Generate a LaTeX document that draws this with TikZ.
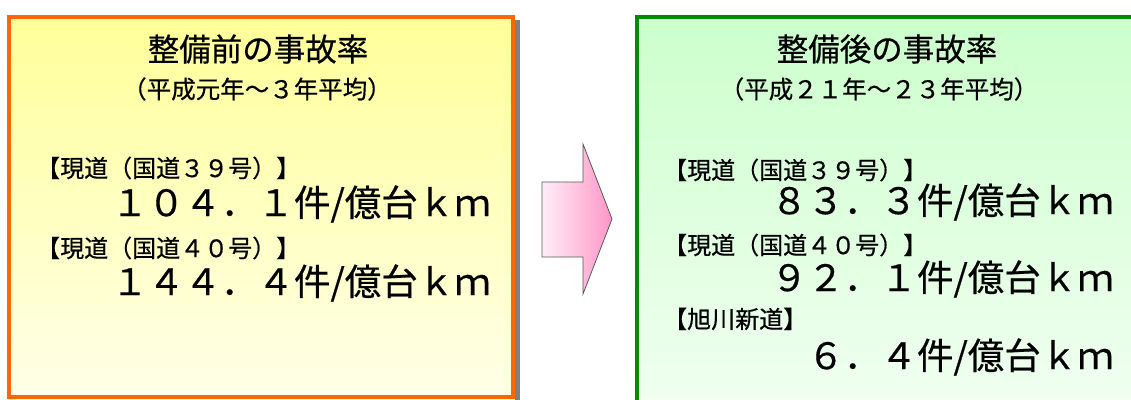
\documentclass[tikz,border=0pt]{standalone}
\usepackage{fontspec}
\setmainfont{Noto Sans CJK JP}[FakeBold=0.5]
\definecolor{orangeline}{RGB}{255,102,0}
\definecolor{greenline}{RGB}{0,140,0}
\definecolor{yeltop}{RGB}{255,255,153}
\definecolor{yelbot}{RGB}{255,255,232}
\definecolor{grntop}{RGB}{204,255,204}
\definecolor{grnbot}{RGB}{242,255,242}
\definecolor{pinkl}{RGB}{255,238,246}
\definecolor{pinkr}{RGB}{255,150,200}
\definecolor{shadowgray}{RGB}{128,128,128}
\tikzset{
  titletext/.style={inner sep=0pt, font=\fontsize{31.5}{35}\selectfont},
  subtext/.style={inner sep=0pt, font=\fontsize{24.5}{28}\selectfont},
  labeltext/.style={inner sep=0pt, anchor=west, font=\fontsize{24}{28}\selectfont},
  valuetext/.style={inner sep=0pt, anchor=east, font=\fontsize{36.5}{40}\selectfont},
}
\begin{document}
\begin{tikzpicture}[x=1pt,y=-1pt]
\useasboundingbox (0,0) rectangle (1131,399);
\begin{scope}
\clip (0,0) rectangle (1131,399);
% left box shadow
\fill[shadowgray] (515,20) rectangle (520,405);
% left box
\shade[top color=yeltop, bottom color=yelbot] (9,17) rectangle (513,397);
\draw[orangeline, line width=4pt] (9,17) rectangle (513,397);
% right box
\shade[top color=grntop, bottom color=grnbot] (637,17) rectangle (1140,420);
\draw[greenline, line width=4pt] (637,17) rectangle (1140,420);
% arrow
\draw[left color=pinkl, right color=pinkr, draw=black!65, line width=0.8pt, line join=miter]
  (542,182) -- (583,182) -- (583,144) -- (612,219) -- (583,294) -- (583,257) -- (542,257) -- cycle;
\end{scope}
% left texts
\node[titletext] (ltitle) at (258,49) {整備前の事故率};
\node[subtext] (lsub) at (257,89) {（平成元年～３年平均）};
\node[labeltext] (llab1) at (36,168) {【現道（国道３９号）】};
\node[valuetext] (lval1) at (491,204) {１０４．１件/億台ｋｍ};
\node[labeltext] (llab2) at (36,248) {【現道（国道４０号）】};
\node[valuetext] (lval2) at (491,283) {１４４．４件/億台ｋｍ};
% right texts
\node[titletext] (rtitle) at (887,49) {整備後の事故率};
\node[subtext] (rsub) at (879,89) {（平成２１年～２３年平均）};
\node[labeltext] (rlab1) at (663,170) {【現道（国道３９号）】};
\node[valuetext] (rval1) at (1114,202) {８３．３件/億台ｋｍ};
\node[labeltext] (rlab2) at (663,245) {【現道（国道４０号）】};
\node[valuetext] (rval2) at (1114,279) {９２．１件/億台ｋｍ};
\node[labeltext] (rlab3) at (663,319) {【旭川新道】};
\node[valuetext] (rval3) at (1114,357) {６．４件/億台ｋｍ};
\end{tikzpicture}
\end{document}
